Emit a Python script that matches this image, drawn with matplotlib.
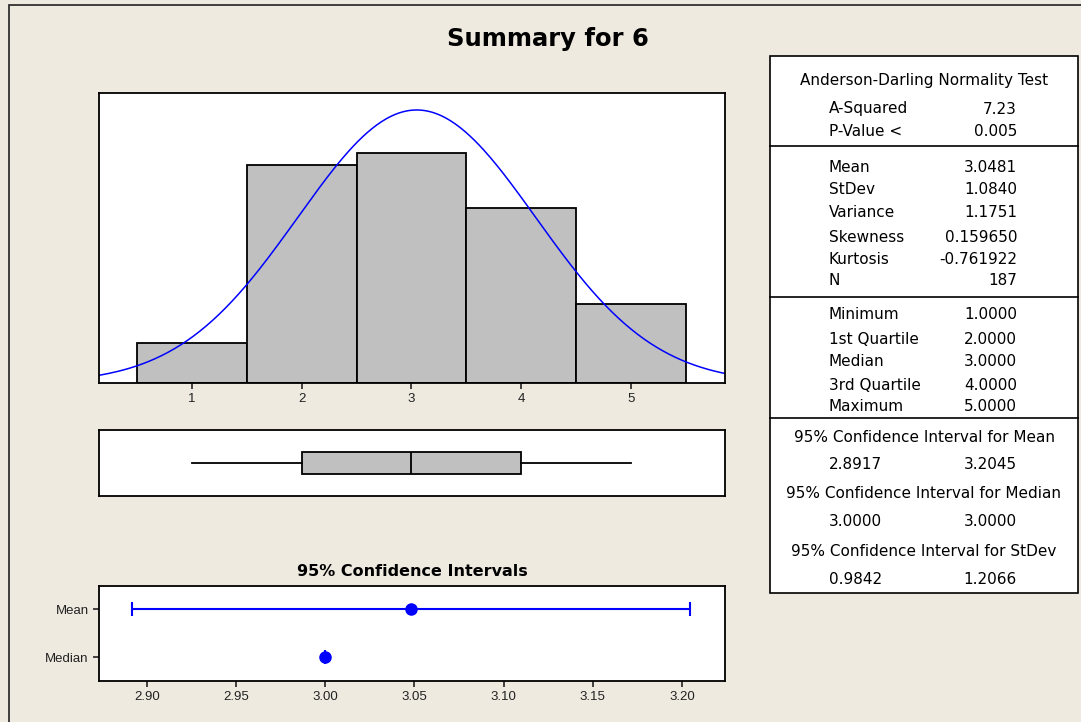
import numpy as np
import matplotlib
matplotlib.use("Agg")
import matplotlib.pyplot as plt
from matplotlib.patches import Rectangle
from matplotlib.lines import Line2D

# histogram data (counts per value)
values = [1, 2, 3, 4, 5]
counts = [10, 55, 58, 44, 20]
n_obs = 187
mean_val = 3.0481
sd_val = 1.0840

# box plot stats
q1, med, q3, vmin, vmax = 2.0, 3.0, 4.0, 1.0, 5.0

# confidence intervals
ci_labels = ["Mean", "Median"]
ci_centers = [3.0481, 3.0]
ci_low = [2.8917, 3.0]
ci_high = [3.2045, 3.0]
ci_ticks = [2.90, 2.95, 3.00, 3.05, 3.10, 3.15, 3.20]

# summary table
ad_rows = [("A-Squared", "7.23"), ("P-Value <", "0.005")]
moment_rows = [("Mean", "3.0481"), ("StDev", "1.0840"), ("Variance", "1.1751"),
               ("Skewness", "0.159650"), ("Kurtosis", "-0.761922"), ("N", "187")]
quant_rows = [("Minimum", "1.0000"), ("1st Quartile", "2.0000"), ("Median", "3.0000"),
              ("3rd Quartile", "4.0000"), ("Maximum", "5.0000")]
ci_rows = [("95% Confidence Interval for Mean", "2.8917", "3.2045"),
           ("95% Confidence Interval for Median", "3.0000", "3.0000"),
           ("95% Confidence Interval for StDev", "0.9842", "1.2066")]

bg = "#eeeae0"
gray = "#c0c0c0"
tickfont = ["Liberation Sans", "DejaVu Sans"]
W, H = 1081, 722

fig = plt.figure(figsize=(W / 100, H / 100), dpi=100, facecolor=bg)

def ax_at(x0, y0, x1, y1):
    # pixel box -> axes
    return fig.add_axes([x0 / W, 1 - y1 / H, (x1 - x0) / W, (y1 - y0) / H])

def style(ax):
    for s in ax.spines.values():
        s.set_linewidth(1.3)
    ax.tick_params(labelsize=9.5, length=4, width=1.2, colors="#222222")
    for lab in ax.get_xticklabels() + ax.get_yticklabels():
        lab.set_family(tickfont)

# outer frame
fig.add_artist(Rectangle((9 / W, -0.1), 1.2, 1 - 5 / H + 0.1, transform=fig.transFigure,
                         fill=False, lw=1.2, ec="#222222"))

fig.text(548 / W, 1 - 39 / H, "Summary for 6", ha="center", va="center",
         fontsize=17.5, fontweight="bold")

# histogram
ax1 = ax_at(99, 93, 725, 383)
ax1.bar(values, counts, width=1.0, color=gray, edgecolor="black", linewidth=1.3)
xs = np.linspace(0.1, 5.9, 400)
pdf = n_obs * np.exp(-0.5 * ((xs - mean_val) / sd_val) ** 2) / (sd_val * np.sqrt(2 * np.pi))
ax1.plot(xs, pdf, color="blue", lw=1.1)
ax1.set_xlim(0.153, 5.857)
ax1.set_ylim(0, 73.1)
ax1.set_yticks([])
ax1.set_xticks(values)
style(ax1)

# box plot
ax2 = ax_at(99, 430, 725, 496)
ax2.bxp([{"med": med, "q1": q1, "q3": q3, "whislo": vmin, "whishi": vmax, "fliers": []}],
        vert=False, positions=[1], widths=0.66, showcaps=False, patch_artist=True,
        boxprops=dict(facecolor=gray, edgecolor="black", linewidth=1.3),
        medianprops=dict(color="black", linewidth=1.3),
        whiskerprops=dict(color="black", linewidth=1.3))
ax2.set_xlim(0.153, 5.857)
ax2.set_ylim(0, 2)
ax2.set_xticks([])
ax2.set_yticks([])
style(ax2)

# confidence intervals
ax3 = ax_at(99, 586, 725, 681)
ypos = [1, 0]
for y, c, lo, hi in zip(ypos, ci_centers, ci_low, ci_high):
    ax3.errorbar([c], [y], xerr=[[c - lo], [hi - c]], fmt="o", color="blue",
                 ms=8, lw=1.5, capsize=4.7, capthick=1.5)
ax3.set_xlim(2.873, 3.2242)
ax3.set_ylim(-0.5, 1.48)
ax3.set_yticks(ypos)
ax3.set_yticklabels(ci_labels)
ax3.set_xticks(ci_ticks)
ax3.set_xticklabels(["%.2f" % t for t in ci_ticks])
style(ax3)
fig.text(412 / W, 1 - 571 / H, "95% Confidence Intervals", ha="center", va="center",
         fontsize=11.5, fontweight="bold")

# summary table
tx0, tx1 = 770, 1078
fig.add_artist(Rectangle((tx0 / W, 1 - 593 / H), (tx1 - tx0) / W, (593 - 56) / H,
                         transform=fig.transFigure, facecolor="white", edgecolor="black", lw=1.2))
for yl in [146, 297, 418]:
    fig.add_artist(Line2D([tx0 / W, tx1 / W], [1 - yl / H] * 2, transform=fig.transFigure,
                          color="black", lw=1.2))

tfs = 11
lab_x = 829 / W
val_x = 1017 / W
mid_x = 924 / W

def ty(y):
    return 1 - y / H

fig.text(mid_x, ty(80), "Anderson-Darling Normality Test", ha="center", va="center", fontsize=tfs)
row_y = [109, 131, 167, 189, 212, 237, 259, 281, 315, 340, 362, 385, 407]
for (lab, val), y in zip(ad_rows + moment_rows + quant_rows, row_y):
    fig.text(lab_x, ty(y), lab, ha="left", va="center", fontsize=tfs)
    fig.text(val_x, ty(y), val, ha="right", va="center", fontsize=tfs)
head_y = [438, 494, 552]
for (head, lo, hi), y in zip(ci_rows, head_y):
    fig.text(mid_x, ty(y), head, ha="center", va="center", fontsize=tfs)
    fig.text(lab_x, ty(y + 27), lo, ha="left", va="center", fontsize=tfs)
    fig.text(val_x, ty(y + 27), hi, ha="right", va="center", fontsize=tfs)

fig.savefig("out.png", dpi=100, facecolor=bg)
